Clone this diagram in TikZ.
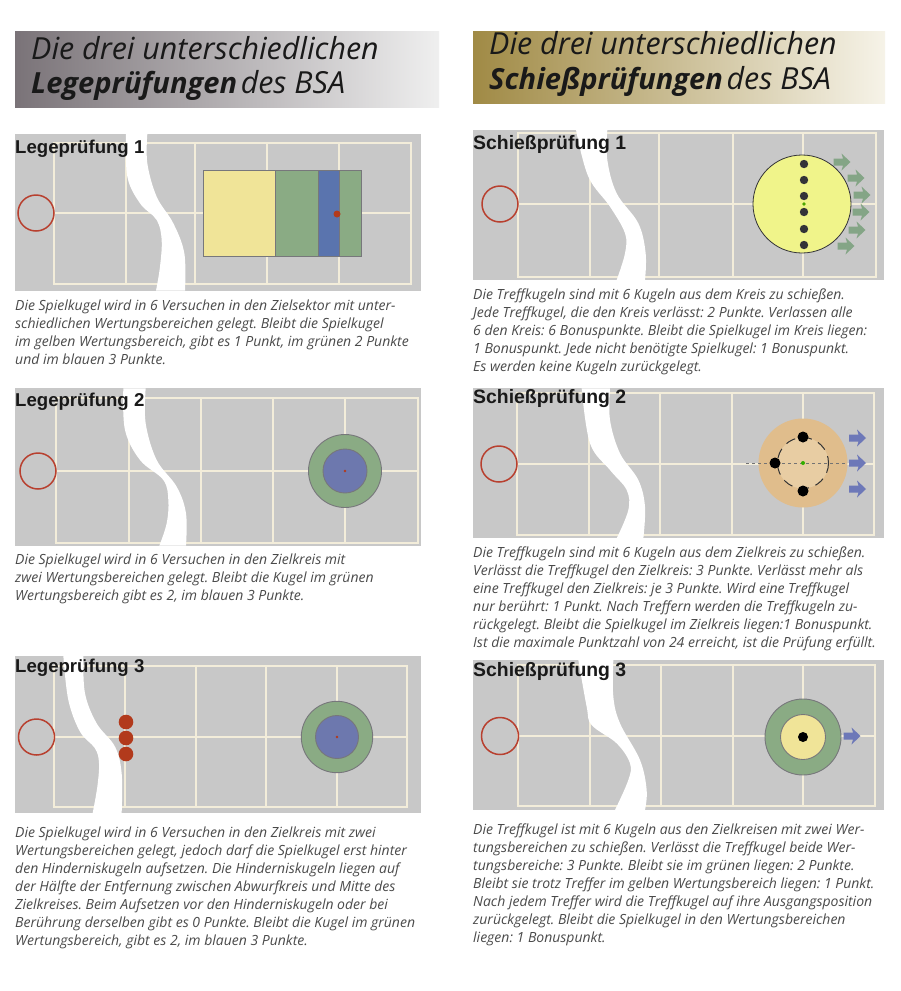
\documentclass[tikz,border=0pt]{standalone}
\usepackage{fontspec}
\setmainfont{Open Sans}
\newfontfamily\headfont{Liberation Sans}
\definecolor{panelbg}{HTML}{C8C8C8}
\definecolor{gridcol}{HTML}{F3EDDA}
\definecolor{ringred}{HTML}{B8402F}
\definecolor{zonegreen}{HTML}{8AAB84}
\definecolor{zoneblue}{HTML}{6D78AE}
\definecolor{sectorblue}{HTML}{5A74AE}
\definecolor{zoneyellow}{HTML}{F0E498}
\definecolor{discyellow}{HTML}{F0F48A}
\definecolor{discouter}{HTML}{E0BD8C}
\definecolor{discinner}{HTML}{E8CDA3}
\definecolor{arrowgreen}{HTML}{84A586}
\definecolor{arrowblue}{HTML}{6D78B8}
\definecolor{ballgrey}{HTML}{333338}
\definecolor{bodygrey}{HTML}{4A4A4A}
\definecolor{edgegrey}{HTML}{77777B}
\definecolor{ballred}{HTML}{B23A1C}
\definecolor{headLa}{HTML}{7A7378}
\definecolor{headLb}{HTML}{B3B0B1}
\definecolor{headLc}{HTML}{EFEFEF}
\definecolor{headSa}{HTML}{A08A45}
\definecolor{headSb}{HTML}{CDBF8F}
\definecolor{headSc}{HTML}{F6F3E8}
\newcommand{\boldhead}[1]{{\fontsize{29.1}{30}\selectfont\bfseries #1}}
\tikzset{
  gridline/.style={draw=gridcol,line width=1.7pt},
  startring/.style={draw=ringred,line width=1.5pt},
  zone/.style={draw=edgegrey,line width=.9pt},
  heading/.style={inner sep=0,anchor=base west,font=\fontsize{30.4}{30}\selectfont\itshape,text=black!90},
  paneltitle/.style={inner sep=0,anchor=base west,font=\headfont\bfseries\fontsize{18.6}{18}\selectfont,text=black!90},
  paneltitleS/.style={inner sep=0,anchor=base west,font=\headfont\bfseries\fontsize{19.4}{18}\selectfont,text=black!90},
  bodytext/.style={inner sep=0,anchor=north west,align=left,text=bodygrey,
    font=\fontsize{14}{18.1}\selectfont\itshape\frenchspacing},
}
% panel rectangle, grid rectangle
\newcommand{\courtbase}[8]{%
  \fill[panelbg] (#1,#2) rectangle (#3,#4);
  \draw[gridline] (#5,#6) rectangle (#7,#8);}
% verticals, top, bottom ; centre line left, right, y
\newcommand{\courtlines}[6]{%
  \foreach \vx in {#1} {\draw[gridline] (\vx,#2) -- (\vx,#3);}
  \draw[gridline] (#4,#6) -- (#5,#6);}
% river in 3x zoom coordinates of the crop at origin (#1,#2)
\newcommand{\river}[4]{%
  \begin{scope}[xshift=#1pt,yshift=-#2pt,x=.33333pt,y=-.33333pt]
    \fill[white] plot[smooth,tension=.6] coordinates {#3} -- plot[smooth,tension=.6] coordinates {#4} -- cycle;
  \end{scope}}
% block arrow: x y angle colour
\newcommand{\blockarrow}[4]{%
  \fill[#4,shift={(#1,#2)},rotate=#3] (-8.5,-3.5) -- (1,-3.5) -- (-.5,-8.5) -- (8.5,0) -- (-.5,8.5) -- (1,3.5) -- (-8.5,3.5) -- cycle;}
\newcommand{\para}[4]{\node[bodytext] (#1) at (#2,#3-11) {\rule{0pt}{11pt}#4};}
\begin{document}
\begin{tikzpicture}[x=1pt,y=-1pt]
\useasboundingbox (0,0) rectangle (900,991);
\fill[white] (0,0) rectangle (900,991);

% headers
\shade[left color=headLa, middle color=headLb, right color=headLc] (15,31) rectangle (439,107);
\node[heading] (headL1) at (31,59) {Die drei unterschiedlichen};
\node[heading] (headL2) at (31,93) {\boldhead{Legeprüfungen}\kern.12em des BSA};
\shade[left color=headSa, middle color=headSb, right color=headSc] (473,31) rectangle (885,103);
\node[heading] (headS1) at (489,54) {Die drei unterschiedlichen};
\node[heading] (headS2) at (489,89) {\boldhead{Schießprüfungen}\kern.12em des BSA};

% Legeprüfung 1
\courtbase{15}{134}{421}{291}{54}{143}{411}{284}
\courtlines{126,195,267,339}{143}{284}{54}{411}{213}
\river{0}{20}{(378,342)(382,470)(420,550)(470,600)(485,660)(480,740)(468,812)}{(555,812)(553,700)(520,610)(470,530)(442,430)(442,342)}
\draw[startring] (36,213) circle (18);
\fill[zoneyellow] (203,170) rectangle (275,256);
\fill[zonegreen] (275,170) rectangle (361,256);
\fill[sectorblue] (318,170) rectangle (339,256);
\draw[edgegrey,line width=.7pt] (203,170) rectangle (361,256) (275,170) -- (275,256) (318,170) -- (318,256) (339,170) -- (339,256);
\fill[ballred] (337,214) circle (3.5);
\node[paneltitle] (titleL1) at (15,153) {Legeprüfung 1};
\para{textL1}{15}{310}{Die Spielkugel wird in 6 Versuchen in den Zielsektor mit unter-\\schiedlichen Wertungsbereichen gelegt. Bleibt die Spielkugel\\im gelben Wertungsbereich, gibt es 1 Punkt, im grünen 2 Punkte\\und im blauen 3 Punkte.}

% Legeprüfung 2
\courtbase{15}{388}{421}{546}{56}{398}{418}{543}
\courtlines{129,201,273,345}{398}{543}{56}{418}{471}
\river{0}{380}{(370,25)(375,150)(420,240)(490,300)(505,360)(500,430)(478,497)}{(558,497)(558,400)(530,320)(470,240)(437,130)(437,25)}
\draw[startring] (38,471) circle (18);
\draw[zone,fill=zonegreen] (345,471) circle (36.5);
\draw[zone,fill=zoneblue] (345,471) circle (22);
\fill[ballred] (345,471) circle (1.3);
\node[paneltitle] (titleL2) at (15,406) {Legeprüfung 2};
\para{textL2}{15}{564}{Die Spielkugel wird in 6 Versuchen in den Zielkreis mit\\zwei Wertungsbereichen gelegt. Bleibt die Kugel im grünen\\Wertungsbereich gibt es 2, im blauen 3 Punkte.}

% Legeprüfung 3
\courtbase{15}{656}{421}{813}{54}{666}{407}{807}
\courtlines{125,196,266,337}{666}{807}{54}{407}{737}
\river{0}{650}{(190,17)(205,150)(240,245)(285,295)(297,340)(292,410)(278,489)}{(365,489)(365,370)(345,290)(290,220)(255,130)(250,17)}
\draw[startring] (36.5,737) circle (18);
\foreach \by in {722,738,754} {\fill[ballred] (126,\by) circle (7.3);}
\draw[zone,fill=zonegreen] (337,737) circle (35.7);
\draw[zone,fill=zoneblue] (337,737) circle (21.5);
\fill[ballred] (337,737) circle (1.3);
\node[paneltitle] (titleL3) at (15,672) {Legeprüfung 3};
\para{textL3}{15}{837}{Die Spielkugel wird in 6 Versuchen in den Zielkreis mit zwei\\Wertungsbereichen gelegt, jedoch darf die Spielkugel erst hinter\\den Hinderniskugeln aufsetzen. Die Hinderniskugeln liegen auf\\der Hälfte der Entfernung zwischen Abwurfkreis und Mitte des\\Zielkreises. Beim Aufsetzen vor den Hinderniskugeln oder bei\\Berührung derselben gibt es 0 Punkte. Bleibt die Kugel im grünen\\Wertungsbereich, gibt es 2, im blauen 3 Punkte.}

% Schießprüfung 1
\courtbase{473}{130}{884}{280}{518}{133}{876}{277}
\courtlines{590,659,733,803}{133}{277}{518}{876}{204}
\river{450}{20}{(378,330)(415,470)(480,560)(525,640)(525,700)(500,780)}{(585,780)(587,700)(565,610)(500,520)(472,420)(472,330)}
\draw[startring] (500,204) circle (18);
\blockarrow{842}{162}{0}{arrowgreen}
\blockarrow{856}{178}{0}{arrowgreen}
\blockarrow{862}{195}{0}{arrowgreen}
\blockarrow{861}{212}{0}{arrowgreen}
\blockarrow{857}{230}{0}{arrowgreen}
\blockarrow{846}{246}{0}{arrowgreen}
\draw[draw=ballgrey,line width=.8pt,fill=discyellow] (802,204) circle (49);
\foreach \by in {164,180,196,212,229,245} {\fill[ballgrey] (804,\by) circle (4.2);}
\fill[green!50!black!70!yellow] (804,204) circle (1.8);
\node[paneltitleS] (titleS1) at (473,149) {Schießprüfung 1};
\para{textS1}{473}{299}{Die Treffkugeln sind mit 6 Kugeln aus dem Kreis zu schießen.\\Jede Treffkugel, die den Kreis verlässt: 2 Punkte. Verlassen alle\\6 den Kreis: 6 Bonuspunkte. Bleibt die Spielkugel im Kreis liegen:\\1 Bonuspunkt. Jede nicht benötigte Spielkugel: 1 Bonuspunkt.\\Es werden keine Kugeln zurückgelegt.}

% Schießprüfung 2
\courtbase{473}{388}{884}{538}{517}{393}{874}{535}
\courtlines{589,660,732,803}{393}{535}{517}{874}{464}
\river{450}{380}{(395,25)(420,190)(480,270)(530,330)(535,390)(500,475)}{(580,475)(585,380)(565,300)(510,220)(480,120)(480,25)}
\draw[startring] (499,464) circle (18);
\fill[discouter] (803,463) circle (44.5);
\draw[draw=black!80,line width=1pt,dash pattern=on 10pt off 7pt,fill=discinner] (803,463) circle (25.5);
\draw[draw=black!55,line width=.7pt,dashed] (746,463) -- (846,463);
\foreach \bx/\by in {803/437,775/463,803/491} {\fill[black] (\bx,\by) circle (5.5);}
\fill[green!60!black!80!yellow] (803,463) circle (2);
\foreach \ay in {438,463,489} {\blockarrow{857.5}{\ay}{0}{arrowblue}}
\node[paneltitleS] (titleS2) at (473,403) {Schießprüfung 2};
\para{textS2}{473}{557}{Die Treffkugeln sind mit 6 Kugeln aus dem Zielkreis zu schießen.\\Verlässt die Treffkugel den Zielkreis: 3 Punkte. Verlässt mehr als\\eine Treffkugel den Zielkreis: je 3 Punkte. Wird eine Treffkugel\\nur berührt: 1 Punkt. Nach Treffern werden die Treffkugeln zu-\\rückgelegt. Bleibt die Spielkugel im Zielkreis liegen:1 Bonuspunkt.\\Ist die maximale Punktzahl von 24 erreicht, ist die Prüfung erfüllt.}

% Schießprüfung 3
\courtbase{473}{660}{884}{810}{518}{665}{875}{806}
\courtlines{590,661,733,803}{665}{806}{518}{875}{736}
\river{450}{650}{(385,30)(410,170)(425,225)(500,280)(540,340)(535,390)(495,480)}{(585,480)(590,420)(570,330)(510,220)(490,140)(490,30)}
\draw[startring] (500,736) circle (18.5);
\draw[zone,fill=zonegreen] (803,737) circle (38);
\draw[zone,fill=zoneyellow] (803,737) circle (22.5);
\fill[black] (803,737) circle (5);
\blockarrow{852}{736}{0}{arrowblue}
\node[paneltitleS] (titleS3) at (473,676) {Schießprüfung 3};
\para{textS3}{473}{834}{Die Treffkugel ist mit 6 Kugeln aus den Zielkreisen mit zwei Wer-\\tungsbereichen zu schießen. Verlässt die Treffkugel beide Wer-\\tungsbereiche: 3 Punkte. Bleibt sie im grünen liegen: 2 Punkte.\\Bleibt sie trotz Treffer im gelben Wertungsbereich liegen: 1 Punkt.\\Nach jedem Treffer wird die Treffkugel auf ihre Ausgangsposition\\zurückgelegt. Bleibt die Spielkugel in den Wertungsbereichen\\liegen: 1 Bonuspunkt.}
\end{tikzpicture}
\end{document}
